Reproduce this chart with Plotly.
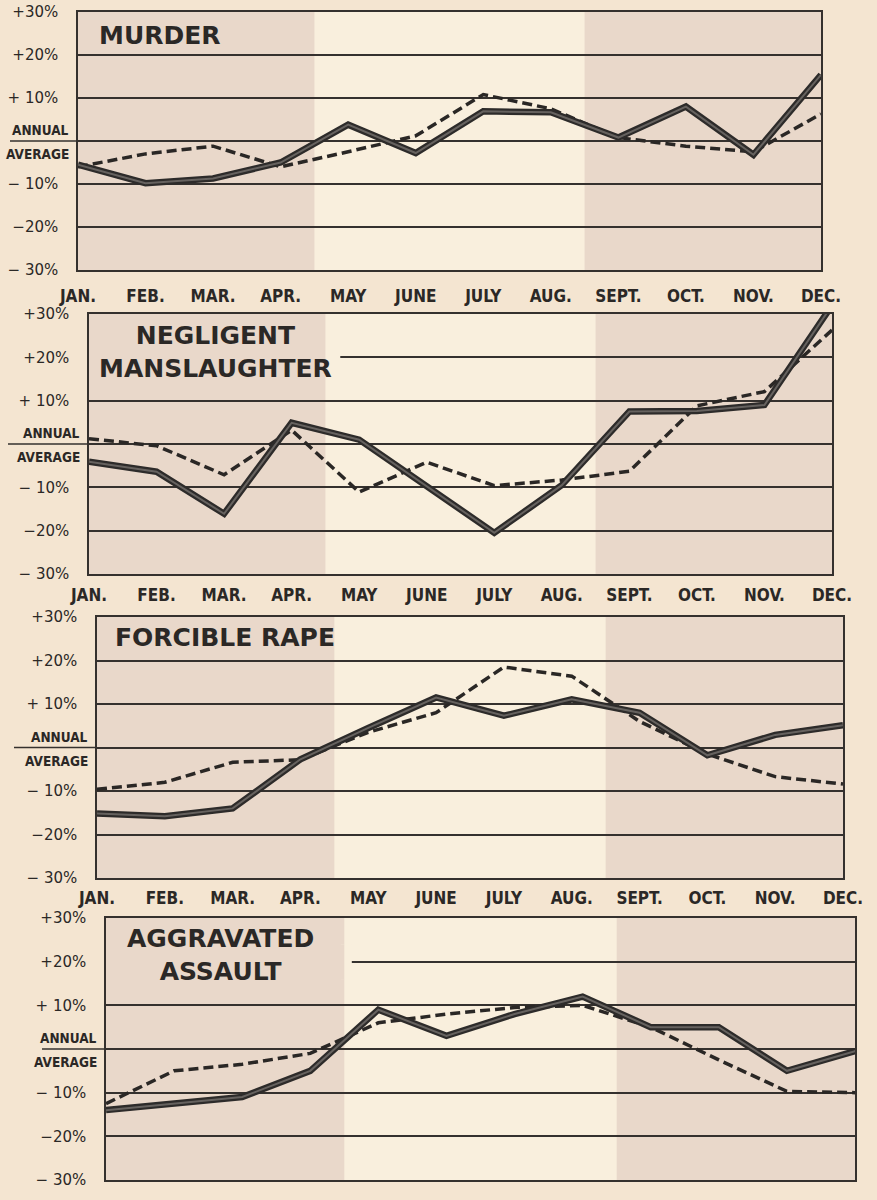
import plotly.graph_objects as go

# ---------------- data ----------------
MONTHS = ["JAN.", "FEB.", "MAR.", "APR.", "MAY", "JUNE", "JULY", "AUG.",
          "SEPT.", "OCT.", "NOV.", "DEC."]
TITLES = ["MURDER", "NEGLIGENT<br>MANSLAUGHTER", "FORCIBLE RAPE",
          "AGGRAVATED<br>ASSAULT"]
Y_TICK_VALUES = [-30, -20, -10, 0, 10, 20, 30]
Y_TICK_TEXT = ["− 30%", "−20%", "− 10%", "", "+ 10%", "+20%", "+30%"]
ZERO_LABEL_TOP = "ANNUAL"
ZERO_LABEL_BOTTOM = "AVERAGE"

murder_solid = [-5.5, -9.8, -8.7, -5.0, 3.8, -2.8, 6.9, 6.7, 0.8, 8.0, -3.2, 15.4]
murder_dashed = [-6.0, -3.0, -1.2, -6.0, -2.5, 1.2, 10.8, 7.5, 0.8, -1.2, -2.5, 6.3]

manslaughter_solid = [-4.1, -6.4, -16.1, 4.9, 1.0, -9.8, -20.5, -9.5, 7.5, 7.6, 9.0, 32.0]
manslaughter_dashed = [1.2, -0.4, -7.1, 3.2, -11.1, -4.2, -9.6, -8.3, -6.3, 8.8, 12.1, 26.3]

rape_solid = [-15.2, -15.8, -14.0, -2.7, 4.5, 11.5, 7.3, 11.1, 8.0, -1.8, 2.9, 5.1]
rape_dashed = [-9.6, -8.0, -3.4, -2.8, 3.5, 8.0, 18.5, 16.4, 6.0, -1.5, -6.7, -8.4]

assault_solid = [-14.0, -12.5, -11.0, -5.0, 9.0, 3.0, 8.0, 12.0, 5.0, 5.0, -5.0, -0.5]
assault_dashed = [-12.5, -5.0, -3.5, -1.0, 6.0, 8.0, 9.5, 10.0, 5.0, -2.5, -9.7, -10.0]

SOLID = [murder_solid, manslaughter_solid, rape_solid, assault_solid]
DASHED = [murder_dashed, manslaughter_dashed, rape_dashed, assault_dashed]

# ---------------- styling / layout ----------------
W, H = 877, 1200
# panel plot areas in pixels: (left, right, top, bottom)
PANELS = [(78, 821, 12, 270), (89, 832, 314, 574), (97, 843, 617, 878), (106, 855, 918, 1180)]
ZERO_EXT_LEFT = [10, 8, 14, 42]          # px where the annual-average line starts
MONTH_STANDOFF = [10, 5, 4, 4]
TITLE_POS = [(0.026, 0.91), (0.011, 0.852), (0.021, 0.923), (0.025, 0.859)]
TITLE_MASK_END = {1: 3.72, 3: 3.61}      # +20 gridline hidden behind title (x index)
SHADE_SPANS = [(0, 3.5), (7.5, 11)]

PAPER = "#f4e5d1"
CREAM = "#f9efdd"
SHADE = "#e9d8ca"
GRID = "#35312e"
TEXT = "#2b2826"
OUTER = "#2d2b2a"
INNER = "#66625f"
DASH = "#2a2725"

LABEL_FONT = dict(family="Liberation Sans Narrow, DejaVu Sans Condensed, DejaVu Sans",
                  size=13.5, color=TEXT, weight="bold")

fig = go.Figure()
shapes = []
annotations = []

for i in range(4):
    n = i + 1
    xa = "x" if n == 1 else f"x{n}"
    ya = "y" if n == 1 else f"y{n}"
    l, r, t, b = PANELS[i]

    fig.add_trace(go.Scatter(x=MONTHS, y=DASHED[i], xaxis=xa, yaxis=ya, mode="lines",
                             line=dict(color=DASH, width=3.5, dash="10px,5px"),
                             showlegend=False, hoverinfo="skip"))
    fig.add_trace(go.Scatter(x=MONTHS, y=SOLID[i], xaxis=xa, yaxis=ya, mode="lines",
                             line=dict(color=OUTER, width=6.5),
                             showlegend=False, hoverinfo="skip"))
    fig.add_trace(go.Scatter(x=MONTHS, y=SOLID[i], xaxis=xa, yaxis=ya, mode="lines",
                             line=dict(color=INNER, width=2),
                             showlegend=False, hoverinfo="skip"))

    fig.update_layout({
        ("xaxis" if n == 1 else f"xaxis{n}"): dict(
            domain=[l / W, r / W], range=[0, 11], type="category", anchor=ya,
            showgrid=False, zeroline=False, showline=True, mirror=True,
            linecolor=GRID, linewidth=1.5, ticks="", automargin=False,
            tickfont=dict(family="DejaVu Sans Condensed, DejaVu Sans", size=17,
                          color=TEXT, weight="bold"),
            ticklabelstandoff=MONTH_STANDOFF[i], showticklabels=(n < 4),
            fixedrange=True),
        ("yaxis" if n == 1 else f"yaxis{n}"): dict(
            domain=[1 - b / H, 1 - t / H], range=[-30, 30], anchor=xa,
            tickvals=Y_TICK_VALUES, ticktext=Y_TICK_TEXT, automargin=False,
            showgrid=True, gridcolor=GRID, gridwidth=1.6, zeroline=False,
            showline=True, mirror=True, linecolor=GRID, linewidth=1.5, ticks="",
            tickfont=dict(family="DejaVu Sans", size=15, color=TEXT),
            ticklabelstandoff=15, fixedrange=True),
    })

    for x0, x1 in SHADE_SPANS:
        shapes.append(dict(type="rect", xref=xa, yref=f"{ya} domain", x0=x0, x1=x1,
                           y0=0, y1=1, fillcolor=SHADE, line=dict(width=0), layer="below"))

    if i in TITLE_MASK_END:
        end = TITLE_MASK_END[i]
        split = SHADE_SPANS[0][1]
        shapes.append(dict(type="rect", xref=xa, yref=ya, x0=split - 0.05, x1=end,
                           y0=16, y1=24, fillcolor=CREAM, line=dict(width=0), layer="between"))
        shapes.append(dict(type="rect", xref=xa, yref=ya, x0=0, x1=split,
                           y0=16, y1=24, fillcolor=SHADE, line=dict(width=0), layer="between"))

    # annual average line extends into the label column
    zy = 1 - ((t + b) / 2) / H
    shapes.append(dict(type="line", xref="paper", yref="paper",
                       x0=ZERO_EXT_LEFT[i] / W, x1=l / W, y0=zy, y1=zy,
                       line=dict(color=GRID, width=1.6)))

    annotations.append(dict(text=ZERO_LABEL_TOP, xref=f"{xa} domain", yref=ya,
                            x=-0.009, y=0, xanchor="right", yanchor="bottom", yshift=1,
                            showarrow=False, font=LABEL_FONT))
    annotations.append(dict(text=ZERO_LABEL_BOTTOM, xref=f"{xa} domain", yref=ya,
                            x=-0.009, y=0, xanchor="right", yanchor="top", yshift=-3,
                            showarrow=False, font=LABEL_FONT))

    tx, ty = TITLE_POS[i]
    annotations.append(dict(text=TITLES[i], xref=f"{xa} domain", yref=f"{ya} domain",
                            x=tx, y=ty, xanchor="left", yanchor="middle", align="center",
                            showarrow=False,
                            font=dict(family="DejaVu Sans", size=25, color=TEXT, weight="bold")))

fig.update_layout(
    width=W, height=H, margin=dict(l=0, r=0, t=0, b=0, pad=0),
    paper_bgcolor=PAPER, plot_bgcolor=CREAM,
    shapes=shapes, annotations=annotations, showlegend=False,
)

fig.write_html("out.html", config={"displayModeBar": False},
               post_script="document.body.style.margin='0';document.body.style.overflow='hidden';")
